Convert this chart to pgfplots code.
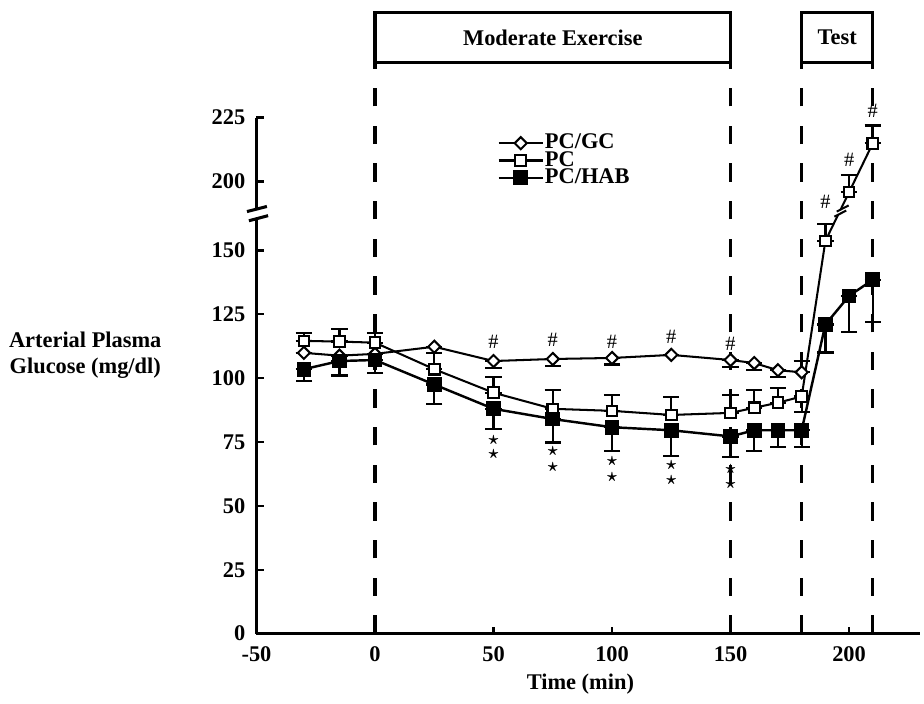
\documentclass[border=0pt]{standalone}
\usepackage{fontspec}
\setmainfont{Liberation Serif}
\usepackage{pgfplots}
\usepackage{pgfplotstable}
\pgfplotsset{compat=1.18}

\newcommand\ff{\fontsize{11}{13}\selectfont\bfseries}

% glucose, mean with one-sided error bars (ep = up, em = down)
\pgfplotstableread{
x    y     ep   em
-30  109.9 0    0
-15  108.8 0    0
0    109.5 0    0
25   112.3 0    0
50   106.7 0    2.6
75   107.5 0    2.6
100  107.9 0    2.6
125  109.1 0    0
150  107.1 0    2.6
160  105.9 0    2.6
170  103.1 0    2.6
180  102.3 4.4  0
}\gc
\pgfplotstableread{
x    y     ep   em
-30  114.6 3.1  0
-15  114.3 5.0  0
0    113.9 3.8  0
25   103.5 6.2  0
50   94.3  6.2  0
75   88.0  7.3  0
100  87.2  6.2  0
125  85.6  7.0  0
150  86.4  7.0  0
160  88.4  6.9  0
170  90.4  5.8  0
180  92.8  0    6.0
190  153.7 6.7  0
200  195.8 6.7  0
210  214.9 7.0  0
}\pc
\pgfplotstableread{
x    y     ep   em
-30  103.5 0    4.6
-15  106.7 0    5.7
0    107.1 0    5.0
25   97.5  0    7.5
50   88.0  0    8.0
75   84.0  0    9.2
100  80.8  0    9.2
125  79.6  0    10.0
150  77.2  0    8.0
160  79.6  0    8.0
170  79.6  0    6.5
180  79.6  0    6.5
190  121.0 0    11.0
200  132.2 0    14.0
210  138.5 0    16.6
}\hab

\pgfplotsset{
  ebar/.style={forget plot, only marks, mark=none,
    error bars/y dir=both, error bars/y explicit,
    error bars/error bar style={line width=1.1pt, black},
    error bars/error mark options={rotate=90, mark size=4pt, line width=1.1pt, black}},
  brk/.style={y filter/.expression={y>160 ? y-23 : y}},
}

\begin{document}
\begin{tikzpicture}[font=\ff]
\begin{axis}[
  scale only axis, width=326pt, height=253.5pt,
  xmin=-50, xmax=230, ymin=0, ymax=202,
  axis x line=bottom, axis y line=left,
  axis line style={line width=1.6pt, -},
  clip=false,
  xtick={-50,0,50,100,150,200}, xticklabels={-50,0,50,100,150,200},
  ytick={0,25,50,75,100,125,150,177,202},
  yticklabels={0,25,50,75,100,125,150,200,225},
  tick align=inside, major tick length=3.5pt,
  tick style={line width=1.2pt, black},
  xticklabel style={yshift=-3pt},
  yticklabel style={xshift=-2pt},
  xlabel={Time (min)},
  xlabel style={at={(ticklabel cs:0.488)}, yshift=1pt},
  ylabel={Arterial Plasma\\Glucose (mg/dl)},
  ylabel style={rotate=-90, align=center, at={(axis description cs:-0.258,0.54)}, anchor=center},
  legend style={draw=none, fill=none, at={(axis cs:51.5,195.5)}, anchor=north west,
    inner sep=0pt, row sep=0pt,
    nodes={inner sep=0.5pt, text height=6.5pt, text depth=1pt}},
  legend cell align=left,
  legend image code/.code={\draw[#1, mark repeat=2, mark phase=2]
    plot coordinates {(0cm,0cm) (0.38cm,0cm) (0.76cm,0cm)};},
]
% phase boxes and dashed markers
\foreach \xx in {0,150,180,210}{
  \edef\tmp{\noexpand\draw[line width=1.6pt, dash pattern=on 9pt off 9.5pt]
    (axis cs:\xx,0) -- (axis cs:\xx,223.7);}\tmp}
\draw[line width=1.5pt] (axis cs:0,223.7) rectangle (axis cs:150,243);
\node at (axis cs:75,233.3) {Moderate Exercise};
\draw[line width=1.5pt] (axis cs:180,223.7) rectangle (axis cs:210,243);
\node at (axis cs:195,233.3) {Test};

\addplot[ebar] table[x=x, y=y, y error plus=ep, y error minus=em] {\gc};
\addplot[brk, ebar] table[x=x, y=y, y error plus=ep, y error minus=em] {\pc};
\addplot[ebar] table[x=x, y=y, y error plus=ep, y error minus=em] {\hab};

\addplot[black, line width=1pt, mark=square*, mark size=2.1pt,
  mark options={fill=white, rotate=45, line width=1pt}] table[x=x, y=y] {\gc};
\addplot[black, line width=1pt, brk, mark=square*, mark size=2.6pt,
  mark options={fill=white, line width=1pt}] table[x=x, y=y] {\pc};
\addplot[black, line width=1.2pt, mark=square*, mark size=3pt,
  mark options={fill=black}] table[x=x, y=y] {\hab};
\legend{PC/GC, PC, PC/HAB}

% significance marks
\addplot[forget plot, only marks, brk, mark=text, text mark={\#}] coordinates {
  (50,114.3) (75,115) (100,114.3) (125,116.2) (150,113.5)
  (190,192.2) (200,208.5) (210,227.6)};
\addplot[forget plot, only marks, mark=text, text mark={\small\boldmath$\star$}] coordinates {
  (50,75.6) (50,70.1) (75,71.3) (75,65.3) (100,67.7) (100,61.3)
  (125,66.1) (125,60.1) (150,64.5) (150,58.5)};

% break on the PC line
\fill[white] (axis cs:193.8,163.2) -- (axis cs:198.8,165.6) -- (axis cs:199.8,167.6) -- (axis cs:194.8,165.2) -- cycle;
\draw[line width=1pt] (axis cs:193.8,163.2) -- (axis cs:198.8,165.6);
\draw[line width=1pt] (axis cs:194.8,165.2) -- (axis cs:199.8,167.6);

\coordinate (b1) at (axis cs:-53.2,161.6);
\coordinate (b2) at (axis cs:-45.1,163.6);
\coordinate (b3) at (axis cs:-45.6,167.2);
\coordinate (b4) at (axis cs:-54,165.2);
\path (axis cs:-158.2,248) rectangle (axis cs:231.6,-27.5);
\end{axis}
% break on the y axis
\fill[white] (b1) -- (b2) -- (b3) -- (b4) -- cycle;
\draw[line width=1.5pt] (b1) -- (b2);
\draw[line width=1.5pt] (b4) -- (b3);
\end{tikzpicture}
\end{document}
